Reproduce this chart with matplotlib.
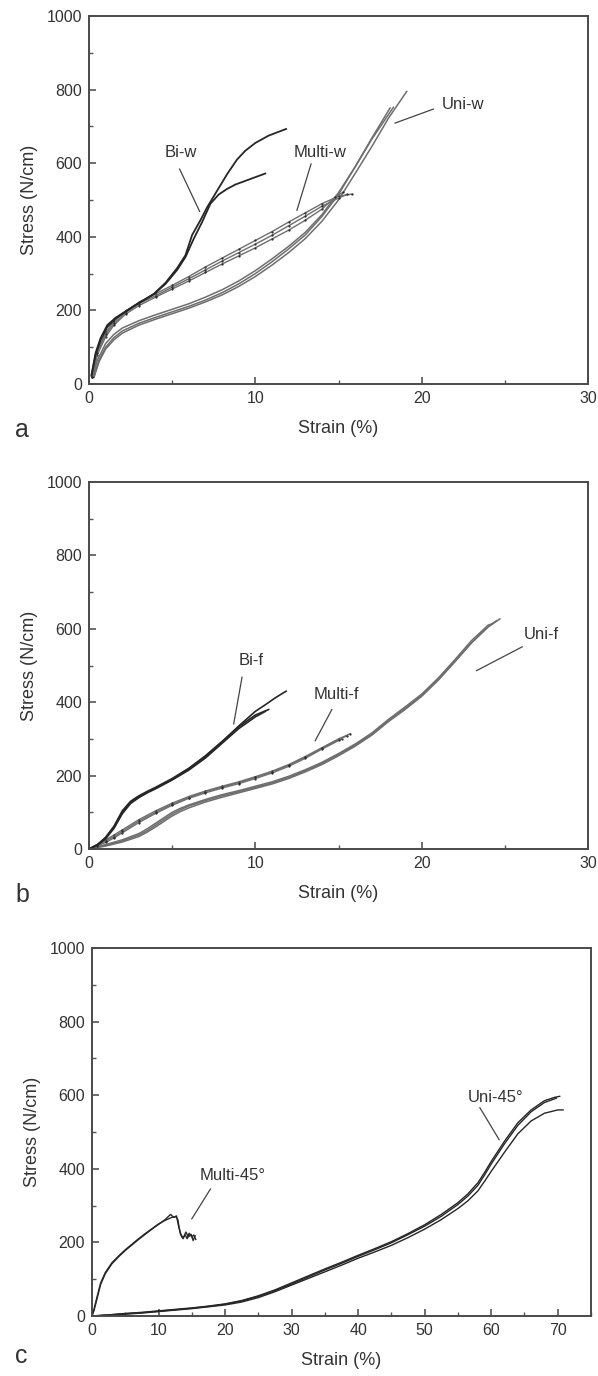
import matplotlib
matplotlib.use("Agg")
import matplotlib.pyplot as plt
from matplotlib.ticker import MultipleLocator

plt.rcParams['font.family'] = ['Liberation Sans', 'DejaVu Sans']
TXT = '#333333'
DARK = '#262626'
GRAY = '#6e6e6e'

# ---- panel a : warp direction ----
bi_w_1_x = [0.15, 0.4, 0.7, 1.1, 1.6, 2.3, 3.0, 3.9, 4.6, 5.3, 5.8, 6.2, 6.7, 7.1, 7.7, 8.3, 8.9, 9.4, 10.0, 10.8, 11.85]
bi_w_1_y = [25, 85, 125, 160, 180, 200, 220, 245, 275, 315, 350, 405, 445, 480, 525, 570, 610, 634, 655, 675, 693]
bi_w_2_x = [0.15, 0.4, 0.7, 1.1, 1.6, 2.3, 3.0, 3.9, 4.6, 5.3, 5.8, 6.3, 6.8, 7.3, 7.8, 8.3, 8.8, 9.4, 10.0, 10.6]
bi_w_2_y = [22, 80, 120, 155, 178, 200, 220, 244, 272, 310, 345, 395, 440, 490, 515, 530, 542, 552, 562, 572]

multi_w_1_x = [0.2, 0.5, 1.0, 1.5, 2.2, 3.0, 4.0, 5.0, 6.0, 7.0, 8.0, 9.0, 10.0, 11.0, 12.0, 13.0, 14.0, 15.0, 15.8]
multi_w_1_y = [20, 90, 140, 170, 198, 222, 245, 268, 292, 318, 342, 366, 390, 414, 440, 465, 490, 510, 516]
multi_w_2_x = [0.2, 0.5, 1.0, 1.5, 2.2, 3.0, 4.0, 5.0, 6.0, 7.0, 8.0, 9.0, 10.0, 11.0, 12.0, 13.0, 14.0, 14.8, 15.3]
multi_w_2_y = [18, 80, 128, 160, 190, 213, 236, 258, 280, 303, 326, 348, 370, 394, 418, 445, 475, 508, 522]
multi_w_3_x = [0.2, 0.5, 1.0, 1.5, 2.2, 3.0, 4.0, 5.0, 6.0, 7.0, 8.0, 9.0, 10.0, 11.0, 12.0, 13.0, 14.0, 15.0, 15.5]
multi_w_3_y = [20, 85, 135, 165, 194, 218, 240, 263, 286, 310, 334, 357, 380, 404, 430, 456, 483, 505, 515]

uni_w_1_x = [0.25, 0.5, 1.0, 1.5, 2.0, 3.0, 4.0, 5.0, 6.0, 7.0, 8.0, 9.0, 10.0, 11.0, 12.0, 13.0, 14.0, 15.0, 16.0, 17.0, 18.3]
uni_w_1_y = [20, 65, 110, 135, 152, 172, 188, 203, 218, 236, 256, 280, 308, 340, 374, 412, 460, 520, 590, 665, 752]
uni_w_2_x = [0.3, 0.6, 1.0, 1.5, 2.0, 3.0, 4.0, 5.0, 6.0, 7.0, 8.0, 9.0, 10.0, 11.0, 12.0, 13.0, 14.0, 15.0, 16.0, 17.0, 18.1]
uni_w_2_y = [20, 65, 100, 126, 144, 165, 181, 196, 211, 228, 248, 272, 300, 332, 367, 405, 455, 515, 590, 668, 750]
uni_w_3_x = [0.3, 0.6, 1.0, 1.5, 2.0, 3.0, 4.0, 5.0, 6.0, 7.0, 8.0, 9.0, 10.0, 11.0, 12.0, 13.0, 14.0, 15.0, 16.0, 17.0, 18.0, 19.1]
uni_w_3_y = [18, 60, 95, 120, 138, 160, 176, 191, 206, 223, 242, 265, 292, 323, 357, 395, 442, 500, 572, 645, 722, 795]

# ---- panel b : fill direction ----
bi_f_1_x = [0, 0.5, 1.0, 1.5, 2.0, 2.5, 3.0, 3.5, 4.0, 5.0, 6.0, 7.0, 8.0, 9.0, 10.0, 10.6, 11.2, 11.85]
bi_f_1_y = [0, 12, 30, 60, 100, 127, 142, 155, 166, 190, 218, 252, 292, 335, 375, 393, 412, 430]
bi_f_2_x = [0, 0.5, 1.0, 1.5, 2.0, 2.5, 3.0, 3.5, 4.0, 5.0, 6.0, 7.0, 8.0, 9.0, 10.0, 10.6]
bi_f_2_y = [0, 10, 28, 56, 96, 124, 140, 153, 164, 188, 215, 248, 288, 328, 360, 375]
bi_f_3_x = [0, 0.5, 1.0, 1.5, 2.0, 2.5, 3.0, 3.5, 4.0, 5.0, 6.0, 7.0, 8.0, 9.0, 10.0, 10.8]
bi_f_3_y = [0, 11, 32, 62, 104, 130, 145, 157, 168, 192, 220, 254, 293, 333, 365, 380]

multi_f_1_x = [0, 0.5, 1.0, 1.5, 2.0, 3.0, 4.0, 5.0, 6.0, 7.0, 8.0, 9.0, 10.0, 11.0, 12.0, 13.0, 14.0, 15.0, 15.7]
multi_f_1_y = [0, 12, 25, 38, 52, 80, 104, 125, 143, 158, 171, 183, 197, 212, 230, 252, 276, 300, 314]
multi_f_2_x = [0, 0.5, 1.0, 1.5, 2.0, 3.0, 4.0, 5.0, 6.0, 7.0, 8.0, 9.0, 10.0, 11.0, 12.0, 13.0, 14.0, 15.2]
multi_f_2_y = [0, 8, 18, 30, 44, 72, 97, 119, 138, 153, 166, 178, 192, 207, 225, 247, 272, 300]
multi_f_3_x = [0, 0.5, 1.0, 1.5, 2.0, 3.0, 4.0, 5.0, 6.0, 7.0, 8.0, 9.0, 10.0, 11.0, 12.0, 13.0, 14.0, 15.0, 15.5]
multi_f_3_y = [0, 10, 22, 34, 48, 76, 100, 122, 140, 156, 169, 181, 195, 210, 228, 250, 274, 298, 308]

uni_f_1_x = [0, 1, 2, 3, 3.5, 4, 4.5, 5, 5.5, 6, 7, 8, 9, 10, 11, 12, 13, 14, 15, 16, 17, 18, 19, 20, 21, 22, 23, 24, 24.7]
uni_f_1_y = [0, 10, 22, 38, 50, 65, 80, 95, 107, 117, 132, 145, 156, 168, 180, 195, 213, 233, 257, 283, 313, 350, 383, 418, 462, 512, 562, 605, 627]
uni_f_2_x = [0, 1, 2, 3, 3.5, 4, 4.5, 5, 5.5, 6, 7, 8, 9, 10, 11, 12, 13, 14, 15, 16, 17, 18, 19, 20, 21, 22, 23, 24, 24.5]
uni_f_2_y = [0, 8, 19, 34, 46, 60, 75, 90, 102, 112, 128, 141, 153, 165, 177, 192, 210, 230, 254, 280, 310, 347, 380, 416, 460, 510, 562, 606, 622]
uni_f_3_x = [0, 1, 2, 3, 3.5, 4, 4.5, 5, 5.5, 6, 7, 8, 9, 10, 11, 12, 13, 14, 15, 16, 17, 18, 19, 20, 21, 22, 23, 24, 24.3]
uni_f_3_y = [0, 12, 25, 42, 55, 70, 85, 100, 111, 120, 135, 148, 159, 171, 183, 198, 216, 236, 260, 286, 316, 353, 387, 422, 466, 516, 568, 610, 615]

# ---- panel c : 45 degree ----
multi_45_1_x = [0, 0.3, 0.8, 1.3, 2.0, 3.0, 4.0, 5.0, 6.0, 7.0, 8.0, 9.0, 10.0, 11.0, 12.0, 12.6, 12.9, 13.1, 13.3, 13.6, 14.0, 14.3, 14.6, 15.0, 15.3, 15.6]
multi_45_1_y = [0, 18, 55, 90, 118, 145, 163, 180, 195, 210, 224, 237, 250, 260, 268, 270, 262, 240, 222, 212, 220, 210, 225, 215, 220, 208]
multi_45_2_x = [0, 0.3, 0.8, 1.3, 2.0, 3.0, 4.0, 5.0, 6.0, 7.0, 8.0, 9.0, 10.0, 11.0, 11.8, 12.3, 12.7, 13.0, 13.3, 13.7, 14.1, 14.5, 14.9, 15.2, 15.5]
multi_45_2_y = [0, 15, 50, 86, 115, 142, 161, 178, 193, 208, 222, 236, 249, 262, 276, 268, 272, 245, 225, 210, 228, 215, 222, 205, 218]

uni_45_1_x = [0, 2.5, 5, 7.5, 10, 12.5, 15, 17.5, 20, 22.5, 25, 27.5, 30, 32.5, 35, 37.5, 40, 42.5, 45, 47.5, 50, 52.5, 55, 56.5, 58, 59, 60, 62, 64, 66, 68, 69.5, 70.3]
uni_45_1_y = [0, 3, 7, 10, 14, 18, 22, 27, 33, 42, 55, 71, 90, 109, 128, 146, 165, 183, 202, 224, 248, 276, 308, 332, 362, 390, 420, 475, 525, 560, 585, 594, 597]
uni_45_2_x = [0, 2.5, 5, 7.5, 10, 12.5, 15, 17.5, 20, 22.5, 25, 27.5, 30, 32.5, 35, 37.5, 40, 42.5, 45, 47.5, 50, 52.5, 55, 56.5, 58, 59, 60, 62, 64, 66, 68, 69.8]
uni_45_2_y = [0, 3, 6, 9, 13, 17, 21, 26, 32, 41, 53, 69, 87, 106, 125, 143, 162, 180, 199, 221, 244, 271, 303, 326, 355, 383, 413, 468, 518, 555, 580, 592]
uni_45_3_x = [0, 2.5, 5, 7.5, 10, 12.5, 15, 17.5, 20, 22.5, 25, 27.5, 30, 32.5, 35, 37.5, 40, 42.5, 45, 47.5, 50, 52.5, 55, 56.5, 58, 59, 60, 62, 64, 66, 68, 70, 70.8]
uni_45_3_y = [0, 2, 5, 8, 12, 16, 20, 25, 30, 38, 50, 66, 84, 102, 120, 138, 157, 174, 192, 213, 236, 262, 292, 313, 340, 366, 393, 445, 495, 530, 551, 560, 560]


def style_axes(ax, xmax, xmajor):
    ax.set_xlim(0, xmax)
    ax.set_ylim(0, 1000)
    ax.xaxis.set_major_locator(MultipleLocator(xmajor))
    ax.xaxis.set_minor_locator(MultipleLocator(xmajor / 2))
    ax.yaxis.set_major_locator(MultipleLocator(200))
    ax.yaxis.set_minor_locator(MultipleLocator(100))
    ax.tick_params(which='both', direction='in', top=False, right=False,
                   colors='#555555', labelcolor=TXT, labelsize=11.5)
    ax.tick_params(which='major', length=5, width=1.2)
    ax.tick_params(which='minor', length=3, width=1.0)
    ax.tick_params(axis='y', pad=5)
    ax.tick_params(axis='x', pad=5)
    for s in ax.spines.values():
        s.set_color('#4a4a4a')
        s.set_linewidth(1.4)
    ax.set_ylabel('Stress (N/cm)', fontsize=13, color=TXT, labelpad=6)
    ax.set_xlabel('Strain (%)', fontsize=13, color=TXT, labelpad=10)


def label(ax, text, xy_text, p0, p1):
    ax.text(xy_text[0], xy_text[1], text, fontsize=12, color=TXT, ha='center', va='center')
    ax.plot([p0[0], p1[0]], [p0[1], p1[1]], color='#444444', lw=0.9)


fig = plt.figure(figsize=(5.98, 13.76), dpi=100)

# panel a
ax1 = fig.add_axes([89 / 598, 1 - 384 / 1376, 499 / 598, 368 / 1376])
for xs, ys in [(uni_w_1_x, uni_w_1_y), (uni_w_2_x, uni_w_2_y), (uni_w_3_x, uni_w_3_y)]:
    ax1.plot(xs, ys, color=GRAY, lw=1.1)
for xs, ys in [(multi_w_1_x, multi_w_1_y), (multi_w_2_x, multi_w_2_y), (multi_w_3_x, multi_w_3_y)]:
    ax1.plot(xs, ys, color=GRAY, lw=1.0, marker='.', ms=1.2, mfc=DARK, mec=DARK)
for xs, ys in [(bi_w_1_x, bi_w_1_y), (bi_w_2_x, bi_w_2_y)]:
    ax1.plot(xs, ys, color=DARK, lw=1.3)
style_axes(ax1, 30, 10)
label(ax1, 'Bi-w', (5.5, 629), (5.45, 584), (6.65, 469))
label(ax1, 'Multi-w', (13.9, 628), (13.35, 598), (12.5, 472))
label(ax1, 'Uni-w', (22.5, 759), (20.7, 747), (18.4, 709))

# panel b
ax2 = fig.add_axes([89 / 598, 1 - 849 / 1376, 499 / 598, 367 / 1376])
for xs, ys in [(uni_f_1_x, uni_f_1_y), (uni_f_2_x, uni_f_2_y), (uni_f_3_x, uni_f_3_y)]:
    ax2.plot(xs, ys, color=GRAY, lw=1.1)
for xs, ys in [(multi_f_1_x, multi_f_1_y), (multi_f_2_x, multi_f_2_y), (multi_f_3_x, multi_f_3_y)]:
    ax2.plot(xs, ys, color=GRAY, lw=1.0, marker='.', ms=1.2, mfc=DARK, mec=DARK)
for xs, ys in [(bi_f_1_x, bi_f_1_y), (bi_f_2_x, bi_f_2_y), (bi_f_3_x, bi_f_3_y)]:
    ax2.plot(xs, ys, color=DARK, lw=1.2)
style_axes(ax2, 30, 10)
label(ax2, 'Bi-f', (9.75, 514), (9.2, 468), (8.7, 341))
label(ax2, 'Multi-f', (14.85, 420), (14.6, 380), (13.6, 295))
label(ax2, 'Uni-f', (27.2, 584), (26.05, 551), (23.3, 486))

# panel c
ax3 = fig.add_axes([92 / 598, 1 - 1316 / 1376, 499 / 598, 368 / 1376])
for xs, ys in [(uni_45_1_x, uni_45_1_y), (uni_45_2_x, uni_45_2_y), (uni_45_3_x, uni_45_3_y)]:
    ax3.plot(xs, ys, color=DARK, lw=1.0)
for xs, ys in [(multi_45_1_x, multi_45_1_y), (multi_45_2_x, multi_45_2_y)]:
    ax3.plot(xs, ys, color=DARK, lw=1.0)
style_axes(ax3, 75, 10)
ax3.xaxis.set_minor_locator(MultipleLocator(5))
label(ax3, 'Multi-45°', (21.1, 382), (17.8, 345), (15.0, 264))
label(ax3, 'Uni-45°', (60.6, 595), (58.3, 566), (61.2, 479))

fig.text(15 / 598, 1 - 430 / 1376, 'a', fontsize=18, color=TXT, va='center')
fig.text(15 / 598, 1 - 895 / 1376, 'b', fontsize=18, color=TXT, va='center')
fig.text(15 / 598, 1 - 1356 / 1376, 'c', fontsize=18, color=TXT, va='center')

fig.savefig('out.png', dpi=100, facecolor='white')
